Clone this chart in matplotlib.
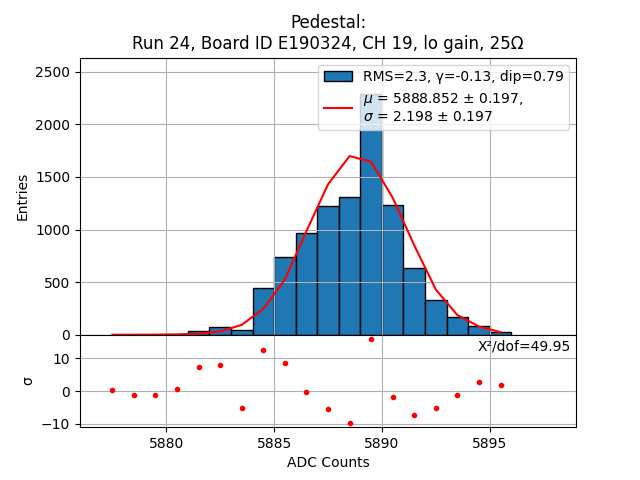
import numpy as np
import matplotlib.pyplot as plt

# histogram (bin edges 5881..5896, width 1)
bin_edges = np.arange(5881, 5897)
counts = [38, 76, 43, 444, 740, 970, 1226, 1312, 2290, 1236, 637, 331, 169, 82, 25]

# fit curve evaluated at bin centres
fit_x = np.arange(5877.5, 5896.0, 1.0)
fit_y = [1, 1, 2, 4, 11, 32, 95, 246, 526, 985, 1429, 1698, 1644, 1302, 850, 430, 187, 79, 25]

# normalised residuals
resid = [0.3, -1.2, -1.2, 0.6, 7.3, 7.9, -5.2, 12.4, 8.5, -0.3, -5.5, -9.7, 15.8,
         -1.8, -7.3, -5.2, -1.2, 2.7, 1.8]

title = "Pedestal:\nRun 24, Board ID E190324, CH 19, lo gain, 25Ω"
hist_label = "RMS=2.3, γ=-0.13, dip=0.79"
fit_label = "$\\mu$ = 5888.852 ± 0.197,\n$\\sigma$ = 2.198 ± 0.197"
chi2_text = "X²/dof=49.95"

fig, (ax, axr) = plt.subplots(2, 1, sharex=True, figsize=(6.4, 4.8), dpi=100,
                              gridspec_kw={'height_ratios': [3, 1], 'hspace': 0})

centres = bin_edges[:-1] + 0.5
ax.hist(centres, bins=bin_edges, weights=counts, color='C0', edgecolor='black',
        label=hist_label)
ax.plot(fit_x, fit_y, color='red', label=fit_label)
ax.set_ylim(0, max(counts) * 1.15)
ax.set_ylabel("Entries")
ax.set_title(title)
ax.grid(True)
ax.legend(loc='upper right')

axr.plot(fit_x, resid, 'r.')
axr.text(0.99, 0.95, chi2_text, ha='right', va='top', transform=axr.transAxes)
axr.set_ylabel("σ")
axr.set_xlabel("ADC Counts")
axr.grid(True)
axr.set_xlim(5876.0, 5899.0)

plt.savefig("out.png")
plt.close()
